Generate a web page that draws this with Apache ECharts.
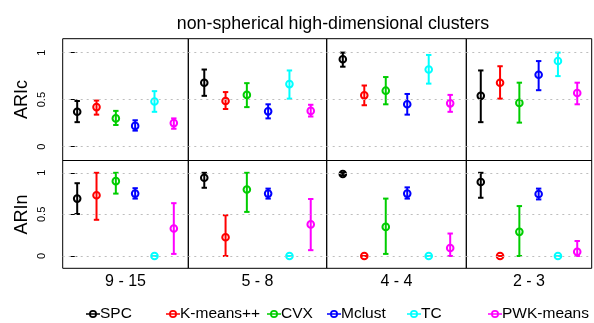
<!DOCTYPE html>
<html>
<head>
<meta charset="utf-8">
<script src="https://cdn.jsdelivr.net/npm/echarts@6/dist/echarts.min.js"></script>
<style>
  html, body { margin: 0; padding: 0; background: #fff; }
  #chart { width: 594px; height: 323px; }
</style>
</head>
<body>
<div id="chart"></div>
<script>
const groups = ['9 - 15', '5 - 8', '4 - 4', '2 - 3'];
const methods = ['SPC', 'K-means++', 'CVX', 'Mclust', 'TC', 'PWK-means'];
const rowNames = ['ARIc', 'ARIn'];
const yTicks = [0, 0.5, 1];

// rows = methods, columns = groups
const aricMean = [
  [0.37, 0.68, 0.93, 0.54],
  [0.42, 0.485, 0.545, 0.68],
  [0.30, 0.55, 0.595, 0.465],
  [0.22, 0.375, 0.45, 0.765],
  [0.48, 0.665, 0.82, 0.91],
  [0.25, 0.38, 0.46, 0.57]
];
const aricLow = [
  [0.26, 0.54, 0.85, 0.26],
  [0.34, 0.40, 0.44, 0.51],
  [0.23, 0.42, 0.45, 0.255],
  [0.17, 0.30, 0.34, 0.60],
  [0.37, 0.51, 0.67, 0.75],
  [0.19, 0.32, 0.37, 0.45]
];
const aricHigh = [
  [0.485, 0.82, 1.0, 0.81],
  [0.49, 0.58, 0.65, 0.855],
  [0.38, 0.675, 0.74, 0.68],
  [0.28, 0.45, 0.56, 0.91],
  [0.59, 0.81, 0.975, 1.0],
  [0.30, 0.445, 0.55, 0.68]
];
const arinMean = [
  [0.69, 0.94, 0.985, 0.89],
  [0.73, 0.225, 0, 0],
  [0.90, 0.80, 0.35, 0.29],
  [0.75, 0.75, 0.75, 0.745],
  [0, 0, 0, 0],
  [0.33, 0.38, 0.096, 0.05]
];
const arinLow = [
  [0.505, 0.82, 0.97, 0.70],
  [0.435, 0, 0, 0],
  [0.75, 0.53, 0.025, 0],
  [0.69, 0.69, 0.69, 0.68],
  [0, 0, 0, 0],
  [0.025, 0.07, 0, 0]
];
const arinHigh = [
  [0.875, 1.0, 1.0, 1.0],
  [1.0, 0.49, 0, 0],
  [1.0, 1.0, 0.69, 0.60],
  [0.815, 0.81, 0.825, 0.81],
  [0, 0, 0, 0],
  [0.635, 0.685, 0.27, 0.18]
];

const colors = ['#000000', '#FF0000', '#00CD00', '#0000FF', '#00FFFF', '#FF00FF'];
const fontFamily = 'Liberation Sans, Arial, sans-serif';

// panel edges in pixels
const xs = [62.7, 188.3, 326.7, 466.3, 591.7];
const ys = [38.7, 160.5, 268.3];
const legendX = [86, 166, 267, 327, 407, 488];

// line through an open circle, like R's legend(lty=1, pch=1)
const legendIcon = 'path://M0,3.25 H14 V4.75 H0 Z' +
  ' M11,4 A4,4 0 1,1 3,4 A4,4 0 1,1 11,4 Z' +
  ' M9.3,4 A2.3,2.3 0 1,0 4.7,4 A2.3,2.3 0 1,0 9.3,4 Z';

function renderErrorBar(params, api) {
  const x = api.value(0);
  const pm = api.coord([x, api.value(1)]);
  const pl = api.coord([x, api.value(2)]);
  const ph = api.coord([x, api.value(3)]);
  const color = api.visual('color');
  const cap = 2.7;
  const style = { stroke: color, lineWidth: 2, fill: null };
  return {
    type: 'group',
    children: [
      { type: 'line', shape: { x1: pl[0], y1: pl[1], x2: ph[0], y2: ph[1] }, style: style },
      { type: 'line', shape: { x1: pl[0] - cap, y1: pl[1], x2: pl[0] + cap, y2: pl[1] }, style: style },
      { type: 'line', shape: { x1: ph[0] - cap, y1: ph[1], x2: ph[0] + cap, y2: ph[1] }, style: style },
      { type: 'circle', shape: { cx: pm[0], cy: pm[1], r: 3.3 }, style: { stroke: color, lineWidth: 2, fill: null } }
    ]
  };
}

const grid = [];
const xAxis = [];
const yAxis = [];
const series = [];

for (let r = 0; r < 2; r++) {
  const means = r === 0 ? aricMean : arinMean;
  const lows = r === 0 ? aricLow : arinLow;
  const highs = r === 0 ? aricHigh : arinHigh;
  for (let c = 0; c < 4; c++) {
    const k = r * 4 + c;
    grid.push({
      left: xs[c],
      top: ys[r],
      width: xs[c + 1] - xs[c],
      height: ys[r + 1] - ys[r],
      show: true,
      borderColor: '#000',
      borderWidth: 1,
      backgroundColor: 'transparent'
    });
    xAxis.push({
      type: 'value',
      gridIndex: k,
      min: -0.75,
      max: 5.75,
      axisLine: { show: false },
      axisTick: { show: false },
      axisLabel: { show: false },
      splitLine: { show: false },
      name: r === 1 ? groups[c] : '',
      nameLocation: 'middle',
      nameGap: 5,
      nameTextStyle: { fontSize: 16, color: '#000', fontFamily: fontFamily }
    });
    yAxis.push({
      type: 'value',
      gridIndex: k,
      min: -0.148,
      max: 1.148,
      axisLine: { show: false },
      splitLine: { show: false },
      axisTick: {
        show: c === 0,
        customValues: yTicks,
        length: 7,
        lineStyle: { color: '#000', width: 1 }
      },
      axisLabel: {
        show: c === 0,
        customValues: yTicks,
        rotate: 90,
        align: 'center',
        verticalAlign: 'bottom',
        margin: 15,
        fontSize: 11,
        color: '#000',
        fontFamily: fontFamily
      },
      name: c === 0 ? rowNames[r] : '',
      nameLocation: 'middle',
      nameRotate: 90,
      nameGap: 32,
      nameTextStyle: { fontSize: 18, color: '#000', fontFamily: fontFamily }
    });
    // dotted reference lines at 0, 0.5, 1
    series.push({
      type: 'line',
      xAxisIndex: k,
      yAxisIndex: k,
      data: [],
      silent: true,
      markLine: {
        silent: true,
        symbol: 'none',
        label: { show: false },
        lineStyle: { color: '#bebebe', type: [2, 4], width: 1 },
        data: yTicks.map(v => ({ yAxis: v }))
      }
    });
    methods.forEach((m, i) => {
      series.push({
        name: m,
        type: 'custom',
        xAxisIndex: k,
        yAxisIndex: k,
        renderItem: renderErrorBar,
        itemStyle: { color: colors[i] },
        clip: false,
        z: 3,
        data: [[i, means[i][c], lows[i][c], highs[i][c]]]
      });
    });
  }
}

let myChart = echarts.init(document.getElementById('chart'));
let option = {
  backgroundColor: '#ffffff',
  animation: false,
  title: {
    text: 'non-spherical high-dimensional clusters',
    left: 328,
    top: 10,
    textAlign: 'center',
    textStyle: { fontSize: 17.8, fontWeight: 'normal', color: '#000', fontFamily: fontFamily }
  },
  legend: methods.map((m, i) => ({
    data: [{ name: m, icon: legendIcon }],
    left: legendX[i],
    top: 306,
    padding: 0,
    itemWidth: 14,
    itemHeight: 8,
    selectedMode: false,
    textStyle: { fontSize: 15.5, color: '#000', fontFamily: fontFamily, padding: [0, 0, 0, -5] }
  })),
  grid: grid,
  xAxis: xAxis,
  yAxis: yAxis,
  series: series
};
option && myChart.setOption(option);
</script>
</body>
</html>
